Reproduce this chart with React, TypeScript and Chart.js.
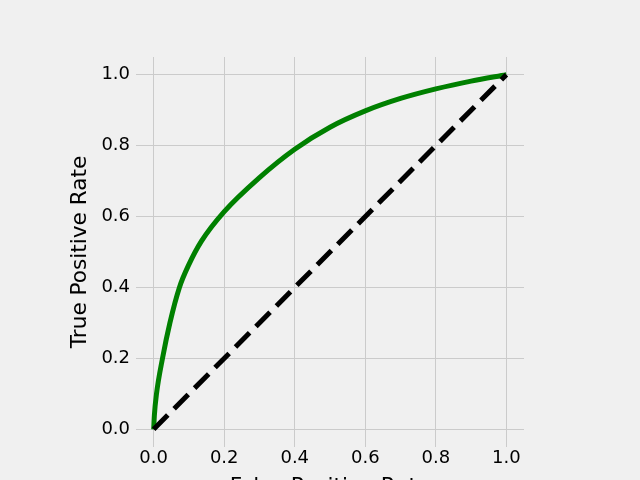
import React, { useEffect, useRef } from "react";
import { Chart, registerables } from "chart.js";

Chart.register(...registerables);

const rocFpr = [0, 0.002, 0.008, 0.025, 0.046, 0.073, 0.1, 0.135, 0.2, 0.3, 0.4, 0.5, 0.6, 0.7, 0.8, 0.9, 1.0];
const rocTpr = [0, 0.04, 0.1, 0.2, 0.3, 0.4, 0.465, 0.53, 0.614, 0.71, 0.79, 0.852, 0.898, 0.933, 0.96, 0.982, 1.0];
const chanceX = [0, 1];
const chanceY = [0, 1];
const tickValues = [0, 0.2, 0.4, 0.6, 0.8, 1.0];
const xTitle = "False Positive Rate";
const yTitle = "True Positive Rate";

export default function App() {
  const ref = useRef<HTMLCanvasElement | null>(null);
  useEffect(() => {
    if (!ref.current) return;
    const font = "'DejaVu Sans', sans-serif";
    const setTicks = (scale: any) => {
      scale.ticks = tickValues.map((v) => ({ value: v }));
    };
    const chart = new Chart(ref.current, {
      type: "line",
      data: {
        datasets: [
          {
            data: chanceX.map((x, i) => ({ x, y: chanceY[i] })),
            borderColor: "#000000",
            borderWidth: 5,
            borderDash: [20, 9],
            pointRadius: 0,
            fill: false,
          },
          {
            data: rocFpr.map((x, i) => ({ x, y: rocTpr[i] })),
            borderColor: "#008000",
            borderWidth: 5,
            pointRadius: 0,
            cubicInterpolationMode: "monotone",
            fill: false,
          },
        ],
      },
      options: {
        animation: false,
        responsive: true,
        maintainAspectRatio: false,
        layout: { padding: { left: 61.5, right: 116, top: 57, bottom: 0 } },
        plugins: { legend: { display: false }, tooltip: { enabled: false } },
        scales: {
          x: {
            type: "linear",
            min: -0.05,
            max: 1.05,
            afterBuildTicks: setTicks,
            grid: { color: "#cbcbcb", lineWidth: 1, drawTicks: false },
            border: { display: false },
            ticks: {
              padding: 1,
              color: "#000",
              font: { family: font, size: 18 },
              callback: (v: any) => Number(v).toFixed(1),
              maxRotation: 0,
            },
            title: {
              display: true,
              text: xTitle,
              color: "#000",
              font: { family: font, size: 21.6 },
              padding: { top: 3.5, bottom: 2 },
            },
          },
          y: {
            type: "linear",
            min: -0.05,
            max: 1.05,
            afterBuildTicks: setTicks,
            grid: { color: "#cbcbcb", lineWidth: 1, drawTicks: false },
            border: { display: false },
            ticks: {
              padding: 6,
              color: "#000",
              font: { family: font, size: 18 },
              callback: (v: any) => Number(v).toFixed(1),
            },
            title: {
              display: true,
              text: yTitle,
              color: "#000",
              font: { family: font, size: 21.6 },
              padding: { top: 5.5, bottom: 2.5 },
            },
          },
        },
      },
    });
    return () => chart.destroy();
  }, []);
  return (
    <div
      style={{
        position: "fixed",
        left: 0,
        top: 0,
        width: 640,
        height: 480,
        overflow: "hidden",
        background: "#f0f0f0",
      }}
    >
      <div style={{ position: "relative", width: 640, height: 502 }}>
        <canvas ref={ref} />
      </div>
    </div>
  );
}
